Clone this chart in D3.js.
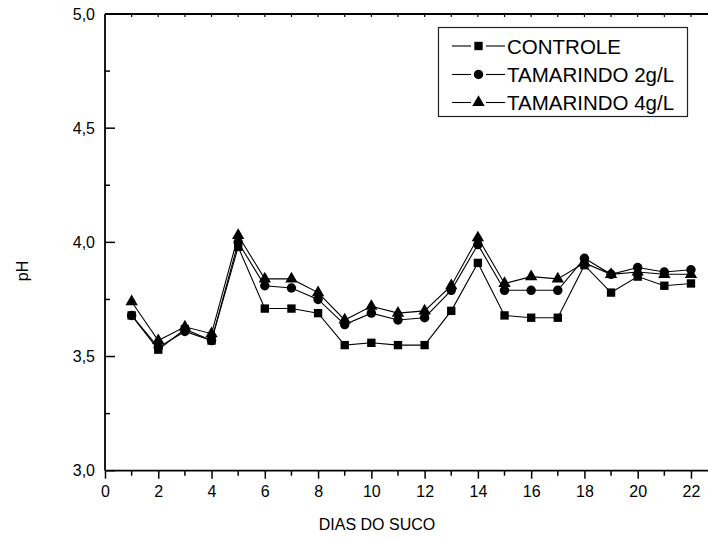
<!DOCTYPE html>
<html>
<head>
<meta charset="utf-8">
<script src="https://cdn.jsdelivr.net/npm/d3@7"></script>
<style>
  body { margin: 0; background: #fff; }
  text { font-family: "Liberation Sans", Arial, sans-serif; fill: #000; }
</style>
</head>
<body>
<svg id="chart" width="708" height="538"></svg>
<script>
const days = [1,2,3,4,5,6,7,8,9,10,11,12,13,14,15,16,17,18,19,20,21,22];
const controle = [3.68,3.53,3.62,3.57,3.98,3.71,3.71,3.69,3.55,3.56,3.55,3.55,3.70,3.91,3.68,3.67,3.67,3.90,3.78,3.85,3.81,3.82];
const tam2 = [3.68,3.54,3.61,3.57,4.00,3.81,3.80,3.75,3.64,3.69,3.66,3.67,3.79,3.99,3.79,3.79,3.79,3.93,3.86,3.89,3.87,3.88];
const tam4 = [3.74,3.57,3.63,3.60,4.03,3.84,3.84,3.78,3.66,3.72,3.69,3.70,3.81,4.02,3.82,3.85,3.84,3.91,3.86,3.87,3.86,3.86];
const seriesNames = ["CONTROLE","TAMARINDO 2g/L","TAMARINDO 4g/L"];
const xTickLabels = [0,2,4,6,8,10,12,14,16,18,20,22];
const yTickLabels = ["3,0","3,5","4,0","4,5","5,0"];
const yTickValues = [3.0,3.5,4.0,4.5,5.0];

const svg = d3.select("#chart");
const pLeft = 105, pRight = 717.6, pTop = 14, pBottom = 470.7;
const x = d3.scaleLinear().domain([0,23]).range([pLeft,pRight]);
const y = d3.scaleLinear().domain([3,5]).range([pBottom,pTop]);

const g = svg.append("g");

// Bottom axis
const bAxis = g.append("g").attr("transform",`translate(0,${pBottom})`)
  .call(d3.axisBottom(x).tickValues(xTickLabels).tickSize(8).tickPadding(7).tickFormat(d=>d));
bAxis.select(".domain").remove();
bAxis.selectAll("line").attr("stroke","#000").attr("stroke-width",1.5);
bAxis.selectAll("text").attr("font-size","16px").attr("font-family","Liberation Sans, Arial, sans-serif");
g.append("g").selectAll("line").data(d3.range(1,23,2)).join("line")
  .attr("x1",d=>x(d)).attr("x2",d=>x(d)).attr("y1",pBottom).attr("y2",pBottom+5)
  .attr("stroke","#000").attr("stroke-width",1.5);

// Left axis (ticks inward)
const lAxis = g.append("g").attr("transform",`translate(${pLeft},0)`)
  .call(d3.axisLeft(y).tickValues(yTickValues).tickSize(0).tickPadding(10).tickFormat((d,i)=>yTickLabels[i]));
lAxis.select(".domain").remove();
lAxis.selectAll("text").attr("font-size","16px").attr("font-family","Liberation Sans, Arial, sans-serif");
g.append("g").selectAll("line").data(yTickValues).join("line")
  .attr("x1",pLeft).attr("x2",pLeft+10).attr("y1",d=>y(d)).attr("y2",d=>y(d))
  .attr("stroke","#000").attr("stroke-width",1.5);
g.append("g").selectAll("line").data([3.25,3.75,4.25,4.75]).join("line")
  .attr("x1",pLeft).attr("x2",pLeft+5).attr("y1",d=>y(d)).attr("y2",d=>y(d))
  .attr("stroke","#000").attr("stroke-width",1.5);

// Top ticks
g.append("g").selectAll("line").data(d3.range(1,23)).join("line")
  .attr("x1",d=>x(d)).attr("x2",d=>x(d)).attr("y1",pTop).attr("y2",pTop+3)
  .attr("stroke","#000").attr("stroke-width",1.2);

// Axis lines
g.append("line").attr("x1",pLeft).attr("x2",708).attr("y1",pBottom).attr("y2",pBottom).attr("stroke","#000").attr("stroke-width",1.8);
g.append("line").attr("x1",pLeft).attr("x2",708).attr("y1",pTop).attr("y2",pTop).attr("stroke","#000").attr("stroke-width",1.8);
g.append("line").attr("x1",pLeft).attr("x2",pLeft).attr("y1",pTop).attr("y2",pBottom).attr("stroke","#000").attr("stroke-width",1.8);

// Axis titles
svg.append("text").attr("x",377).attr("y",530).attr("text-anchor","middle").attr("font-size","16px").text("DIAS DO SUCO");
svg.append("text").attr("transform","translate(28,271) rotate(-90)").attr("text-anchor","middle").attr("font-size","16px").text("pH");

// Series
const series = [controle, tam2, tam4];
const symbols = [d3.symbolSquare, d3.symbolCircle, d3.symbolTriangle];
const sizes = [70, 70, 66];
const line = d3.line().x((d,i)=>x(days[i])).y(d=>y(d));

series.forEach(s=>{
  g.append("path").datum(s).attr("d",line).attr("fill","none").attr("stroke","#000").attr("stroke-width",1.1);
});
series.forEach((s,k)=>{
  g.append("g").selectAll("path").data(s).join("path")
    .attr("transform",(d,i)=>`translate(${x(days[i])},${y(d)})`)
    .attr("d",d3.symbol().type(symbols[k]).size(sizes[k]))
    .attr("fill","#000");
});

// Legend
const lg = svg.append("g");
lg.append("rect").attr("x",438.5).attr("y",27.5).attr("width",249).attr("height",89)
  .attr("fill","#fff").attr("stroke","#222").attr("stroke-width",1.2);
const rowsY = [46,74.5,102.5];
seriesNames.forEach((name,k)=>{
  lg.append("line").attr("x1",452).attr("x2",471).attr("y1",rowsY[k]).attr("y2",rowsY[k]).attr("stroke","#000").attr("stroke-width",1.1);
  lg.append("line").attr("x1",486).attr("x2",505).attr("y1",rowsY[k]).attr("y2",rowsY[k]).attr("stroke","#000").attr("stroke-width",1.1);
  lg.append("path").attr("transform",`translate(478.5,${rowsY[k]})`)
    .attr("d",d3.symbol().type(symbols[k]).size(sizes[k])).attr("fill","#000");
  lg.append("text").attr("x",507).attr("y",rowsY[k]+7.5).attr("font-size","20.5px").text(name);
});
</script>
</body>
</html>
